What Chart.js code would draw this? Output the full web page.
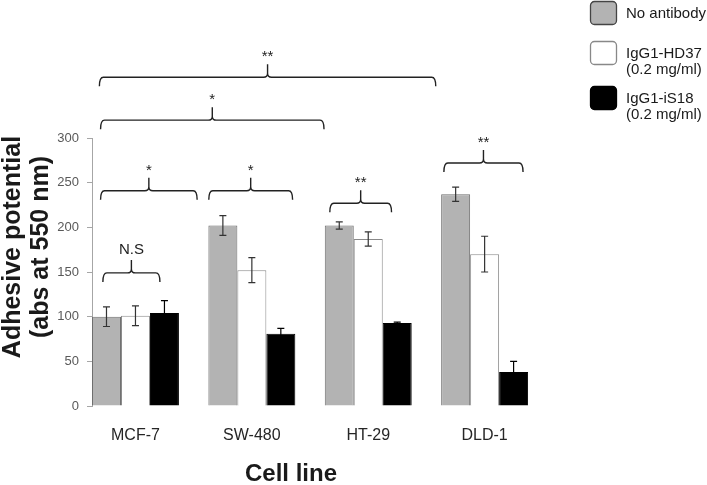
<!DOCTYPE html>
<html>
<head>
<meta charset="utf-8">
<script src="https://cdn.jsdelivr.net/npm/chart.js@4"></script>
<style>
  body { margin: 0; background: #fff; }
  canvas { display: block; }
</style>
</head>
<body>
<canvas id="adhesionChart" width="707" height="485"></canvas>
<script>
// chart data
const cellLines = ['MCF-7', 'SW-480', 'HT-29', 'DLD-1'];
const seriesNames = [['No antibody'], ['IgG1-HD37', '(0.2 mg/ml)'], ['IgG1-iS18', '(0.2 mg/ml)']];
const noAntibody = [100, 202, 202, 237];
const noAntibodyErr = [11, 11, 4, 8];
const hd37 = [101, 152, 187, 170];
const hd37Err = [11, 14, 8, 20];
const is18 = [104, 81, 93, 38];
const is18Err = [14, 6, 1, 12];
const yTicks = [0, 50, 100, 150, 200, 250, 300];
const yTitle = ['Adhesive potential', '(abs at 550 nm)'];
const xTitle = 'Cell line';

// significance braces: span in cell-line index units, level in y units
const braces = [
    { from: -0.28, to: 0.21, level: 149, label: 'N.S' },
    { from: -0.30, to: 0.53, level: 241, label: '*' },
    { from: 0.63, to: 1.35, level: 241, label: '*' },
    { from: 1.67, to: 2.20, level: 227, label: '**' },
    { from: 2.65, to: 3.33, level: 272, label: '**' },
    { from: -0.30, to: 1.62, level: 320, label: '*' },
    { from: -0.31, to: 2.58, level: 368, label: '**' }
];

const FONT = '"Liberation Sans", Arial, sans-serif';

function toPoints(values) {
    return values.map((v, i) => ({ x: i, y: v }));
}

const errors = [noAntibodyErr, hd37Err, is18Err];
const errColors = ['#333', '#333', '#000'];

function drawBrace(ctx, x1, x2, y) {
    const xc = (x1 + x2) / 2;
    const r = 4;
    ctx.beginPath();
    ctx.moveTo(x1, y + 9);
    ctx.quadraticCurveTo(x1, y, x1 + r, y);
    ctx.lineTo(xc - r, y);
    ctx.quadraticCurveTo(xc, y, xc, y - 4);
    ctx.lineTo(xc, y - 13);
    ctx.moveTo(xc, y - 4);
    ctx.quadraticCurveTo(xc, y, xc + r, y);
    ctx.lineTo(x2 - r, y);
    ctx.quadraticCurveTo(x2, y, x2, y + 9);
    ctx.stroke();
}

const extrasPlugin = {
    id: 'extras',
    afterDatasetsDraw(chart) {
        const ctx = chart.ctx;
        const xs = chart.scales.x;
        const ys = chart.scales.y;

        // error bars
        ctx.save();
        ctx.lineWidth = 1.2;
        chart.data.datasets.forEach((ds, d) => {
            ctx.strokeStyle = errColors[d];
            chart.getDatasetMeta(d).data.forEach((bar, i) => {
                const v = ds.data[i].y;
                const e = errors[d][i];
                const yTop = ys.getPixelForValue(v + e);
                const yBot = ys.getPixelForValue(v - e);
                ctx.beginPath();
                ctx.moveTo(bar.x, yTop);
                ctx.lineTo(bar.x, yBot);
                ctx.moveTo(bar.x - 3.5, yTop);
                ctx.lineTo(bar.x + 3.5, yTop);
                ctx.moveTo(bar.x - 3.5, yBot);
                ctx.lineTo(bar.x + 3.5, yBot);
                ctx.stroke();
            });
        });
        ctx.restore();

        // braces with significance labels
        ctx.save();
        ctx.strokeStyle = '#222';
        ctx.lineWidth = 1.4;
        ctx.fillStyle = '#222';
        ctx.textAlign = 'center';
        ctx.textBaseline = 'middle';
        ctx.font = '15px ' + FONT;
        braces.forEach(b => {
            const x1 = xs.getPixelForValue(b.from);
            const x2 = xs.getPixelForValue(b.to);
            const y = ys.getPixelForValue(b.level);
            drawBrace(ctx, x1, x2, y);
            ctx.fillText(b.label, (x1 + x2) / 2, y - (b.label === 'N.S' ? 23 : 20));
        });
        ctx.restore();
    },
    afterDraw(chart) {
        const ctx = chart.ctx;
        ctx.save();
        // axis titles
        ctx.fillStyle = '#1a1a1a';
        ctx.textAlign = 'center';
        ctx.textBaseline = 'middle';
        ctx.font = 'bold 25px ' + FONT;
        ctx.save();
        ctx.translate(0, 247);
        ctx.rotate(-Math.PI / 2);
        ctx.fillText(yTitle[0], 0, 13);
        ctx.fillText(yTitle[1], 0, 41.5);
        ctx.restore();
        ctx.font = 'bold 24px ' + FONT;
        ctx.fillText(xTitle, 291, 474);

        // legend
        ctx.textAlign = 'left';
        ctx.font = '15px ' + FONT;
        const boxTops = [1, 41, 86];
        const boxEdges = ['#444', '#888', '#000'];
        chart.data.datasets.forEach((ds, d) => {
            const top = boxTops[d];
            ctx.beginPath();
            ctx.roundRect(590.5, top + 0.5, 26, 23, 4);
            ctx.fillStyle = ds.backgroundColor;
            ctx.fill();
            ctx.strokeStyle = boxEdges[d];
            ctx.lineWidth = 1.3;
            ctx.stroke();
            ctx.fillStyle = '#1a1a1a';
            seriesNames[d].forEach((line, k) => {
                ctx.fillText(line, 626, top + 13 + k * 15.5);
            });
        });
        ctx.restore();
    }
};

new Chart(document.getElementById('adhesionChart'), {
    type: 'bar',
    data: {
        datasets: [
            { label: seriesNames[0].join(' '), data: toPoints(noAntibody), backgroundColor: '#b3b3b3', borderColor: '#6e6e6e', borderWidth: 1 },
            { label: seriesNames[1].join(' '), data: toPoints(hd37), backgroundColor: '#ffffff', borderColor: '#8a8a8a', borderWidth: 1 },
            { label: seriesNames[2].join(' '), data: toPoints(is18), backgroundColor: '#000000', borderColor: '#000', borderWidth: 1 }
        ]
    },
    options: {
        responsive: false,
        animation: false,
        layout: { padding: { top: 138, right: 170, bottom: 0, left: 0 } },
        datasets: { bar: { barPercentage: 1, categoryPercentage: 0.747 } },
        plugins: { legend: { display: false }, tooltip: { enabled: false } },
        scales: {
            x: {
                type: 'linear',
                offset: false,
                min: -0.3735,
                max: 3.45,
                grid: { display: false, drawTicks: false },
                border: { display: false },
                afterBuildTicks: scale => { scale.ticks = cellLines.map((_, i) => ({ value: i })); },
                afterFit: scale => { scale.height = 79; },
                ticks: {
                    padding: 20,
                    color: '#262626',
                    font: { family: FONT, size: 16 },
                    callback: v => cellLines[v]
                }
            },
            y: {
                min: 0,
                max: 300,
                afterBuildTicks: scale => { scale.ticks = yTicks.map(v => ({ value: v })); },
                afterFit: scale => { scale.width = 92; },
                grid: { drawOnChartArea: false, tickLength: 5, color: '#a6a6a6' },
                border: { color: '#a6a6a6', width: 1 },
                ticks: {
                    padding: 8,
                    color: '#595959',
                    font: { family: FONT, size: 13 }
                }
            }
        }
    },
    plugins: [extrasPlugin]
});
</script>
</body>
</html>
